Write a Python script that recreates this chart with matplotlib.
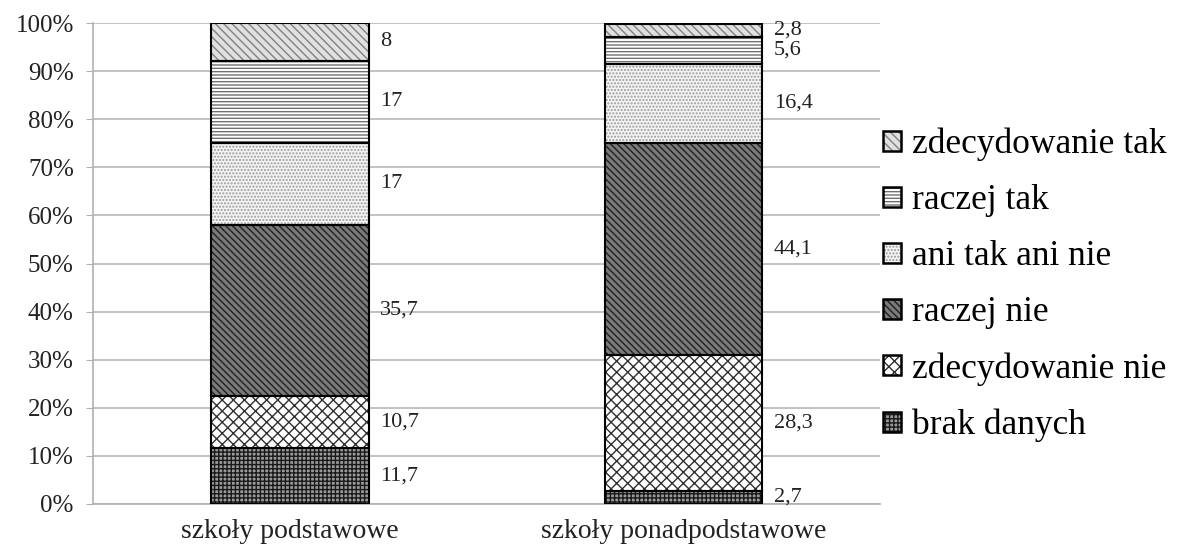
import matplotlib.pyplot as plt
from matplotlib.patches import Patch
from matplotlib.ticker import PercentFormatter

plt.rcParams['font.family'] = ['Liberation Serif', 'DejaVu Serif']
plt.rcParams['hatch.linewidth'] = 1.0

schools = ['szkoły podstawowe', 'szkoły ponadpodstawowe']
answers = ['brak danych', 'zdecydowanie nie', 'raczej nie',
           'ani tak ani nie', 'raczej tak', 'zdecydowanie tak']
podstawowe = [11.7, 10.7, 35.7, 17, 17, 8]
ponadpodstawowe = [2.7, 28.3, 44.1, 16.4, 5.6, 2.8]
value_labels = [['11,7', '10,7', '35,7', '17', '17', '8'],
                ['2,7', '28,3', '44,1', '16,4', '5,6', '2,8']]

# fill, hatch colour, hatch pattern for each answer
styles = [
    ('#9a9a9a', '#1a1a1a', '++++'),
    ('white', '#303030', 'xxx'),
    ('#7a7a7a', '#202020', '\\\\\\\\\\'),
    ('#f4f4f4', '#9a9a9a', '.....'),
    ('white', '#707070', '-----'),
    ('#e0e0e0', '#808080', '\\\\\\\\'),
]

fig = plt.figure(figsize=(11.81, 5.49), dpi=100)
ax = fig.add_axes([0.079, 0.082, 0.666, 0.876])

values = [podstawowe, ponadpodstawowe]
width = 0.4
handles = []
for j, ans in enumerate(answers):
    fc, hc, hatch = styles[j]
    seg = [values[0][j], values[1][j]]
    bottom = [sum(values[0][:j]), sum(values[1][:j])]
    ax.bar([0, 1], seg, width, bottom=bottom, color=fc, edgecolor=hc,
           hatch=hatch, linewidth=0, zorder=2)
    ax.bar([0, 1], seg, width, bottom=bottom, fill=False,
           edgecolor='black', linewidth=1.5, zorder=3)
    for i in range(2):
        ax.text(i + width / 2 + 0.03, bottom[i] + seg[i] / 2, value_labels[i][j],
                ha='left', va='center', fontsize=16, color='#222222')
    handles.append((Patch(facecolor=fc, edgecolor=hc, hatch=hatch, linewidth=0),
                    Patch(fill=False, edgecolor='black', linewidth=1.8)))

ax.set_xlim(-0.5, 1.5)
ax.set_ylim(0, 100)
ax.set_yticks(range(0, 101, 10))
ax.yaxis.set_major_formatter(PercentFormatter(decimals=0))
ax.set_xticks([0, 1])
ax.set_xticklabels(schools)
ax.tick_params(axis='x', length=0, labelsize=20, pad=11, labelcolor='#222222')
ax.tick_params(axis='y', length=5, color='#b0b0b0', labelsize=18, pad=9,
               labelcolor='#222222')
ax.grid(axis='y', color='#b8b8b8', linewidth=1.2, zorder=0)
ax.set_axisbelow(True)
for s in ['top', 'right']:
    ax.spines[s].set_visible(False)
for s in ['left', 'bottom']:
    ax.spines[s].set_color('#b0b0b0')
    ax.spines[s].set_linewidth(1.2)

ax.legend(handles[::-1], answers[::-1], loc='center left',
          bbox_to_anchor=(1.0, 0.455), frameon=False, fontsize=25.5,
          handlelength=0.5, handleheight=0.5, handletextpad=0.3,
          labelspacing=0.65, borderpad=0, borderaxespad=0.1)

fig.savefig('out.png')
